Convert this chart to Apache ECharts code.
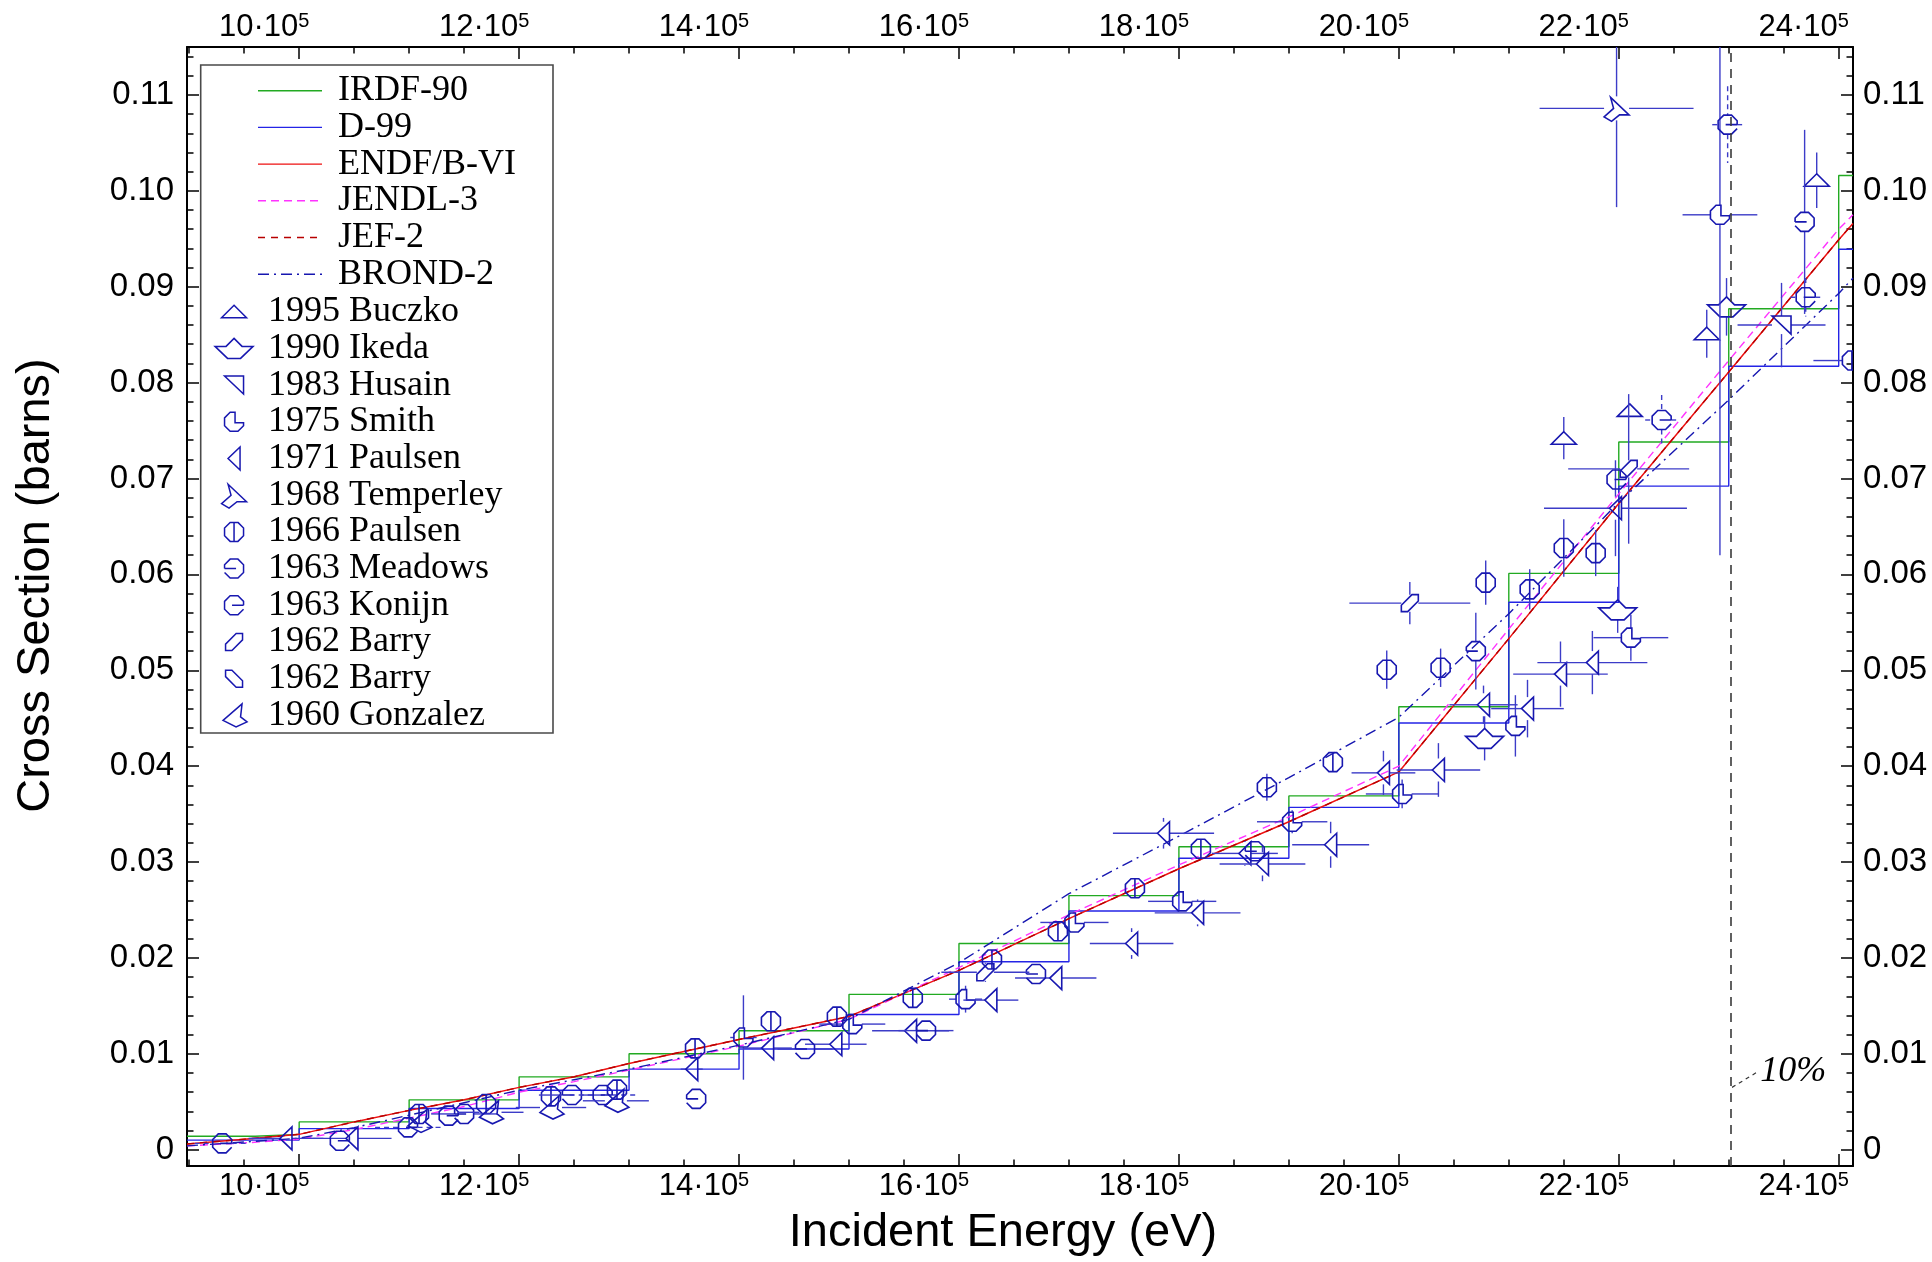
<!DOCTYPE html>
<html>
<head>
<meta charset="utf-8">
<script src="https://cdn.jsdelivr.net/npm/echarts@6/dist/echarts.min.js"></script>
<style>
  html, body { margin: 0; padding: 0; background: #fff; }
  #chart { width: 1932px; height: 1262px; }
</style>
</head>
<body>
<div id="chart"></div>
<script>
// ---- axis ranges ----
const E_MIN = 8.98e5, E_MAX = 24.13e5;
const Y_MIN = -0.0017, Y_MAX = 0.115;

// ---- group-wise libraries: lower bin edges (eV) and group values (b) ----
const irdfEdges = [8.98e5, 9.6e5, 10e5, 11e5, 12e5, 13e5, 14e5, 15e5, 16e5, 17e5, 18e5, 19e5, 20e5, 21e5, 22e5, 23e5, 24e5];
const irdfValues = [0.0014, 0.0016, 0.0029, 0.0052, 0.0076, 0.0100, 0.0124, 0.0162, 0.0215, 0.0265, 0.0316, 0.0369, 0.0462, 0.0601, 0.0738, 0.0877, 0.1016];
const d99Edges = [8.98e5, 10e5, 11e5, 12e5, 13e5, 14e5, 15e5, 16e5, 17e5, 18e5, 19e5, 20e5, 21e5, 22e5, 23e5, 24e5];
const d99Values = [0.0010, 0.0022, 0.0043, 0.0062, 0.0084, 0.0105, 0.0141, 0.0196, 0.0249, 0.0304, 0.0357, 0.0445, 0.0571, 0.0692, 0.0817, 0.0939];

// ---- pointwise evaluations on a common energy grid (eV) ----
const evalEnergies = [8.98e5, 9.5e5, 10e5, 10.5e5, 11e5, 11.5e5, 12e5, 12.5e5, 13e5, 14e5, 15e5, 16e5, 17e5, 18e5, 19e5, 20e5, 21e5, 22e5, 23e5, 24e5, 24.13e5];
const endfValues  = [0.0006, 0.0011, 0.0016, 0.0029, 0.0041, 0.0052, 0.0065, 0.0076, 0.0090, 0.0115, 0.0139, 0.0187, 0.0241, 0.0293, 0.0342, 0.0394, 0.0533, 0.0674, 0.0811, 0.0949, 0.0966];
const jendlValues = [0.0004, 0.0007, 0.0011, 0.0021, 0.0033, 0.0045, 0.0060, 0.0071, 0.0083, 0.0108, 0.0136, 0.0190, 0.0245, 0.0297, 0.0347, 0.0400, 0.0543, 0.0684, 0.0823, 0.0960, 0.0975];
const jefValues   = [0.0006, 0.0011, 0.0016, 0.0029, 0.0041, 0.0052, 0.0065, 0.0076, 0.0090, 0.0115, 0.0139, 0.0187, 0.0241, 0.0293, 0.0342, 0.0394, 0.0533, 0.0674, 0.0811, 0.0949, 0.0966];
const brondValues = [0.0004, 0.0008, 0.0012, 0.0023, 0.0036, 0.0049, 0.0062, 0.0073, 0.0084, 0.0109, 0.0136, 0.0195, 0.0267, 0.0327, 0.0388, 0.0451, 0.0559, 0.0675, 0.0782, 0.0893, 0.0909];

// ---- measurements: [energy (eV), cross section (b), energy half-width (eV), cross-section error (b)] ----
const buczko1995 = [
  [21.50e5, 0.0742, 0, 0.0022], [22.10e5, 0.0771, 0, 0], [22.80e5, 0.0851, 0, 0.0025], [23.80e5, 0.1011, 0, 0.0029]
];
const ikeda1990 = [
  [20.78e5, 0.0429, 0, 0.0023], [21.99e5, 0.0563, 0, 0.0024], [22.98e5, 0.0879, 0, 0.0030]
];
const husain1983 = [
  [23.48e5, 0.0860, 0.40e5, 0.0044]
];
const smith1975 = [
  [14.04e5, 0.0117, 0.12e5, 0.0044], [15.03e5, 0.0131, 0.30e5, 0], [16.06e5, 0.0157, 0.15e5, 0.0014],
  [17.05e5, 0.0237, 0.31e5, 0.0010], [18.03e5, 0.0259, 0.31e5, 0.0010], [19.03e5, 0.0342, 0.32e5, 0.0012],
  [20.03e5, 0.0371, 0.33e5, 0.0015], [21.06e5, 0.0442, 0, 0.0032], [22.11e5, 0.0534, 0.34e5, 0.0024],
  [22.92e5, 0.0975, 0.34e5, 0.0355]
];
const paulsen1971 = [
  [9.88e5, 0.00118, 0.34e5, 0], [10.48e5, 0.00118, 0.36e5, 0], [13.57e5, 0.0084, 0.10e5, 0],
  [14.26e5, 0.0106, 0.22e5, 0], [14.88e5, 0.0110, 0.28e5, 0], [15.56e5, 0.0124, 0.35e5, 0],
  [16.29e5, 0.0156, 0.25e5, 0], [16.88e5, 0.0179, 0.37e5, 0], [17.57e5, 0.0215, 0.38e5, 0.0016],
  [17.86e5, 0.0330, 0.46e5, 0.0016], [18.17e5, 0.0247, 0.39e5, 0.0014], [18.60e5, 0.0309, 0.30e5, 0.0013],
  [18.76e5, 0.0298, 0.39e5, 0.0018], [19.38e5, 0.0318, 0.35e5, 0.0024], [19.86e5, 0.0393, 0.29e5, 0.0023],
  [20.36e5, 0.0396, 0.38e5, 0.0028], [20.77e5, 0.0464, 0.31e5, 0.0020], [21.17e5, 0.0460, 0.33e5, 0.0030],
  [21.47e5, 0.0496, 0.43e5, 0.0034], [21.76e5, 0.0508, 0.50e5, 0.0033], [21.97e5, 0.0669, 0.65e5, 0.0050]
];
const temperley1968 = [
  [21.98e5, 0.1086, 0.70e5, 0.0103]
];
const paulsen1966 = [
  [11.09e5, 0.00373, 0, 0], [11.70e5, 0.00477, 0, 0], [12.29e5, 0.00556, 0, 0], [12.89e5, 0.00626, 0, 0],
  [13.60e5, 0.01057, 0, 0], [14.29e5, 0.01339, 0, 0], [14.89e5, 0.01388, 0, 0], [15.58e5, 0.01583, 0, 0],
  [16.30e5, 0.01983, 0, 0], [16.90e5, 0.02278, 0, 0], [17.60e5, 0.02727, 0, 0], [18.20e5, 0.03138, 0, 0],
  [18.80e5, 0.0378, 0, 0.0014], [19.40e5, 0.04042, 0, 0.0010], [19.89e5, 0.05006, 0, 0.0020],
  [20.38e5, 0.05026, 0, 0.0020], [20.79e5, 0.05914, 0, 0.0023], [21.19e5, 0.05844, 0, 0.0021],
  [21.50e5, 0.06275, 0, 0.0030], [21.79e5, 0.06222, 0, 0.0024], [24.12e5, 0.0823, 0.35e5, 0]
];
const meadows1963 = [
  [11.50e5, 0.00373, 0.30e5, 0], [12.48e5, 0.0057, 0.30e5, 0], [13.61e5, 0.0053, 0, 0],
  [14.60e5, 0.0105, 0.25e5, 0], [15.70e5, 0.01242, 0.25e5, 0], [16.70e5, 0.01833, 0, 0.0008],
  [18.69e5, 0.03113, 0, 0], [20.70e5, 0.0520, 0, 0.0040], [23.69e5, 0.09676, 0, 0.0096]
];
const konijn1963 = [
  [9.30e5, 0.00066, 0.25e5, 0], [10.37e5, 0.00094, 0, 0], [10.99e5, 0.00233, 0.30e5, 0],
  [11.36e5, 0.00355, 0, 0], [12.76e5, 0.0057, 0.30e5, 0], [21.98e5, 0.0699, 0, 0],
  [22.39e5, 0.0761, 0.15e5, 0.0026], [22.99e5, 0.1069, 0.14e5, 0.0040], [23.70e5, 0.0889, 0.14e5, 0.0020]
];
const barry1962a = [
  [16.24e5, 0.0185, 0.40e5, 0.0010], [20.10e5, 0.0570, 0.55e5, 0.0022], [22.09e5, 0.0710, 0.55e5, 0.0078]
];
const barry1962b = [];
const gonzalez1960 = [
  [11.09e5, 0.0030, 0, 0.0012], [11.74e5, 0.0039, 0.30e5, 0], [12.29e5, 0.0044, 0.32e5, 0], [12.88e5, 0.0051, 0.30e5, 0]
];

// threshold marker and its annotation
const tenPercentEnergy = 23.02e5;
const tenPercentPointer = [[23.03e5, 0.0065], [23.26e5, 0.0081]];

// ---- colours ----
const GREEN = '#22aa22', BLUE = '#2424e6', RED = '#ee1111', MAGENTA = '#ff33ff',
      DARKRED = '#b80000', NAVY = '#1616b0', MARK = '#1818b0', BAR = '#3c3cc8';

// ---- marker outlines in pixels around the point ----
const A = 9.5, B = 3.9;
const OCT = [[B, -A], [A, -B], [A, B], [B, A], [-B, A], [-A, B], [-A, -B], [-B, -A]];
const SHAPES = {
  triUp:   { hw: 12.5, hh: 6.5, paths: [{ pts: [[0, -6.5], [12.5, 6], [-12.5, 6]], closed: true }] },
  boat:    { hw: 19, hh: 10, paths: [{ pts: [[0, -10], [8, -2], [19, -2], [6.5, 10], [-6.5, 10], [-19, -2], [-8, -2]], closed: true }] },
  wedge:   { hw: 9.5, hh: 9, paths: [{ pts: [[-9.5, -9], [9.5, -9], [9.5, 9]], closed: true }] },
  notched: { hw: A, hh: A, paths: [{ pts: [[A, 1], [A, B], [B, A], [-B, A], [-A, B], [-A, -B], [-B, -A], [1, -A], [1, 1]], closed: true }] },
  triLeft: { hw: 6, hh: 11.5, paths: [{ pts: [[6, -11.5], [6, 11.5], [-6, 0]], closed: true }] },
  arrow:   { hw: 12.5, hh: 12, paths: [{ pts: [[-6, -11], [12.5, 6.5], [3, 6.5], [-5, 13], [-12.5, 8.5], [-3, 0]], closed: true }] },
  octBar:  { hw: A, hh: A, paths: [{ pts: OCT, closed: true }, { pts: [[0, -A], [0, A]] }] },
  openL:   { hw: A, hh: A, paths: [{ pts: [[-A, 0], [-A, -B], [-B, -A], [B, -A], [A, -B], [A, B], [B, A], [-B, A], [-A, B]] }, { pts: [[-A, 0], [2, 0]] }] },
  openR:   { hw: A, hh: A, paths: [{ pts: [[A, 0], [A, -B], [B, -A], [-B, -A], [-A, -B], [-A, B], [-B, A], [B, A], [A, B]] }, { pts: [[A, 0], [-2, 0]] }] },
  slash:   { hw: 8.5, hh: 8.5, paths: [{ pts: [[8.49, -8.49], [8.49, -2.12], [-2.12, 8.49], [-8.49, 8.49], [-8.49, 2.12], [2.12, -8.49]], closed: true }] },
  bslash:  { hw: 8.5, hh: 8.5, paths: [{ pts: [[-8.49, -8.49], [-8.49, -2.12], [2.12, 8.49], [8.49, 8.49], [8.49, 2.12], [-2.12, -8.49]], closed: true }] },
  flag:    { hw: 11, hh: 11.5, paths: [{ pts: [[8, -11.5], [6.5, 1.5], [13, 6.5], [2, 11.5], [-11, 5]], closed: true }] }
};

function shapePath(shape, cx, cy) {
  return shape.paths.map(p =>
    'M' + p.pts.map(([px, py]) => (cx + px).toFixed(2) + ' ' + (cy + py).toFixed(2)).join(' L') + (p.closed ? ' Z' : '')
  ).join(' ');
}
// legend icon: fixed 40x28 frame so every glyph keeps its own size
function iconPath(shape) {
  return 'path://M-20 -14 M20 14 ' + shapePath(shape, 0, 0);
}

function measurementRenderer(shape, dashedBars) {
  return function (params, api) {
    const x = api.value(0), y = api.value(1), dx = api.value(2), dy = api.value(3);
    const c = api.coord([x, y]);
    const barStyle = { stroke: BAR, lineWidth: 1.4 };
    if (dashedBars) barStyle.lineDash = [5, 4];
    const children = [];
    if (dx > 0) {
      const l = api.coord([x - dx, y])[0], r = api.coord([x + dx, y])[0];
      if (l < c[0] - shape.hw) children.push({ type: 'line', shape: { x1: l, y1: c[1], x2: c[0] - shape.hw, y2: c[1] }, style: barStyle });
      if (r > c[0] + shape.hw) children.push({ type: 'line', shape: { x1: c[0] + shape.hw, y1: c[1], x2: r, y2: c[1] }, style: barStyle });
    }
    if (dy > 0) {
      const t = api.coord([x, y + dy])[1], b = api.coord([x, y - dy])[1];
      if (t < c[1] - shape.hh) children.push({ type: 'line', shape: { x1: c[0], y1: t, x2: c[0], y2: c[1] - shape.hh }, style: barStyle });
      if (b > c[1] + shape.hh) children.push({ type: 'line', shape: { x1: c[0], y1: c[1] + shape.hh, x2: c[0], y2: b }, style: barStyle });
    }
    children.push({ type: 'path', shape: { pathData: shapePath(shape, c[0], c[1]) }, style: { fill: 'none', stroke: MARK, lineWidth: 1.6 } });
    return { type: 'group', children };
  };
}

const measurements = [
  { name: '1995 Buczko',    data: buczko1995,    shape: SHAPES.triUp },
  { name: '1990 Ikeda',     data: ikeda1990,     shape: SHAPES.boat },
  { name: '1983 Husain',    data: husain1983,    shape: SHAPES.wedge },
  { name: '1975 Smith',     data: smith1975,     shape: SHAPES.notched },
  { name: '1971 Paulsen',   data: paulsen1971,   shape: SHAPES.triLeft },
  { name: '1968 Temperley', data: temperley1968, shape: SHAPES.arrow },
  { name: '1966 Paulsen',   data: paulsen1966,   shape: SHAPES.octBar },
  { name: '1963 Meadows',   data: meadows1963,   shape: SHAPES.openL },
  { name: '1963 Konijn',    data: konijn1963,    shape: SHAPES.openR, dashed: true },
  { name: '1962 Barry',     data: barry1962a,    shape: SHAPES.slash },
  { name: '1962 Barry ',    data: barry1962b,    shape: SHAPES.bslash },
  { name: '1960 Gonzalez',  data: gonzalez1960,  shape: SHAPES.flag }
];

function stepData(edges, values) {
  const d = edges.map((e, i) => [e, values[i]]);
  d.push([E_MAX, values[values.length - 1]]);
  return d;
}
function curveData(values) {
  return evalEnergies.map((e, i) => [e, values[i]]);
}

// ---- axes ----
const energyLabel = v => '{n|' + Math.round(v / 1e5) + '·10}{e|5}{p|\u00a0}';
function energyAxis(position, withName) {
  const ax = {
    type: 'value', position, min: E_MIN, max: E_MAX, splitNumber: 7,
    axisLine: { show: true, onZero: false, lineStyle: { color: '#000', width: 2 } },
    axisTick: { show: true, inside: true, length: 12, lineStyle: { color: '#000', width: 1.5 } },
    minorTick: { show: true, splitNumber: 4, length: 6.5, lineStyle: { color: '#000', width: 1.5 } },
    splitLine: { show: false }, minorSplitLine: { show: false },
    axisLabel: {
      show: true, margin: 4, showMinLabel: false, showMaxLabel: false, formatter: energyLabel,
      rich: {
        n: { fontFamily: 'Liberation Sans', fontSize: 31, color: '#000', lineHeight: 32 },
        e: { fontFamily: 'Liberation Sans', fontSize: 20, color: '#000', verticalAlign: 'top', lineHeight: 32 },
        p: { width: 70, fontSize: 10 }
      }
    }
  };
  if (withName) {
    Object.assign(ax, {
      name: 'Incident Energy (eV)', nameLocation: 'middle', nameGap: 44,
      nameTextStyle: { fontFamily: 'Liberation Sans', fontSize: 47, color: '#000', padding: [0, 34, 0, 0] }
    });
  }
  return ax;
}
function xsAxis(position, withName) {
  const ax = {
    type: 'value', position, min: Y_MIN, max: Y_MAX, splitNumber: 11,
    axisLine: { show: true, onZero: false, lineStyle: { color: '#000', width: 2 } },
    axisTick: { show: true, inside: true, length: 12, lineStyle: { color: '#000', width: 1.5 } },
    minorTick: { show: true, splitNumber: 5, length: 6.5, lineStyle: { color: '#000', width: 1.5 } },
    splitLine: { show: false }, minorSplitLine: { show: false },
    axisLabel: {
      show: true, margin: position === 'left' ? 13 : 10, showMinLabel: false, showMaxLabel: false,
      fontFamily: 'Liberation Sans', fontSize: 33, color: '#000',
      formatter: v => (Math.abs(v) < 1e-9 ? '0' : v.toFixed(2))
    }
  };
  if (withName) {
    Object.assign(ax, {
      name: 'Cross Section (barns)', nameLocation: 'middle', nameGap: 127,
      nameTextStyle: { fontFamily: 'Liberation Sans', fontSize: 47, color: '#000', padding: [0, 0, 0, 42] }
    });
  }
  return ax;
}

const lineSeries = [
  { name: 'IRDF-90', type: 'line', step: 'end', data: stepData(irdfEdges, irdfValues), color: GREEN, lineStyle: { color: GREEN, width: 1.4 } },
  { name: 'D-99', type: 'line', step: 'end', data: stepData(d99Edges, d99Values), color: BLUE, lineStyle: { color: BLUE, width: 1.4 } },
  { name: 'ENDF/B-VI', type: 'line', data: curveData(endfValues), color: RED, lineStyle: { color: RED, width: 1.5 } },
  { name: 'JENDL-3', type: 'line', data: curveData(jendlValues), color: MAGENTA, lineStyle: { color: MAGENTA, width: 1.4, type: [8, 5] } },
  { name: 'JEF-2', type: 'line', data: curveData(jefValues), color: DARKRED, lineStyle: { color: DARKRED, width: 1.4, type: [7, 6] } },
  { name: 'BROND-2', type: 'line', data: curveData(brondValues), color: NAVY, lineStyle: { color: NAVY, width: 1.4, type: [11, 5, 2, 5] } }
].map(s => Object.assign(s, { symbol: 'none', showSymbol: false, clip: true, z: 2 }));

const measurementSeries = measurements.map(m => ({
  name: m.name, type: 'custom', clip: true, z: 3,
  renderItem: measurementRenderer(m.shape, m.dashed),
  itemStyle: { color: 'transparent', borderColor: MARK, borderWidth: 1.5 },
  dimensions: ['energy', 'xs', 'dE', 'dXS'],
  encode: { x: 0, y: 1 },
  data: m.data
}));

const annotationSeries = {
  name: 'threshold', type: 'line', data: tenPercentPointer, symbol: 'none', showSymbol: false, z: 4,
  lineStyle: { color: '#333', width: 1.2, type: [4, 4] },
  endLabel: { show: true, formatter: '10%', distance: 3, fontFamily: 'Liberation Serif', fontStyle: 'italic', fontSize: 36, color: '#000' },
  markLine: {
    silent: true, symbol: ['none', 'none'], animation: false,
    label: { show: false },
    lineStyle: { color: '#3a3a3a', width: 1.6, type: [9, 7] },
    data: [{ xAxis: tenPercentEnergy }]
  }
};

const chart = echarts.init(document.getElementById('chart'), null, { renderer: 'canvas' });
chart.setOption({
  backgroundColor: '#fff',
  animation: false,
  grid: { left: 187, right: 79, top: 47, bottom: 96, containLabel: false },
  xAxis: [energyAxis('bottom', true), energyAxis('top', false)],
  yAxis: [xsAxis('left', true), xsAxis('right', false)],
  legend: [
    {
      orient: 'vertical', left: 257.3, top: 72.7, padding: 0, itemGap: 0.7,
      itemWidth: 64, itemHeight: 14, selectedMode: false, z: 6,
      textStyle: { fontFamily: 'Liberation Serif', fontSize: 36, color: '#000', lineHeight: 36, padding: [0, 0, 0, 11] },
      itemStyle: { opacity: 0, borderWidth: 0 },
      lineStyle: { width: 1.4 },
      data: lineSeries.map(s => ({ name: s.name }))
    },
    {
      orient: 'vertical', left: 213.3, top: 293.7, padding: 0, itemGap: 0.7,
      itemWidth: 40, itemHeight: 28, selectedMode: false, z: 6,
      textStyle: { fontFamily: 'Liberation Serif', fontSize: 36, color: '#000', lineHeight: 36, padding: [0, 0, 0, 9] },
      data: measurements.map(m => ({
        name: m.name, icon: iconPath(m.shape),
        itemStyle: { color: 'transparent', borderColor: MARK, borderWidth: 1.5 }
      }))
    }
  ],
  graphic: [{
    type: 'rect', z: 5, silent: true,
    shape: { x: 200.7, y: 65, width: 352.3, height: 668 },
    style: { fill: '#fff', stroke: '#4a4a4a', lineWidth: 1.6 }
  }],
  series: [...lineSeries, ...measurementSeries, annotationSeries]
});
</script>
</body>
</html>
